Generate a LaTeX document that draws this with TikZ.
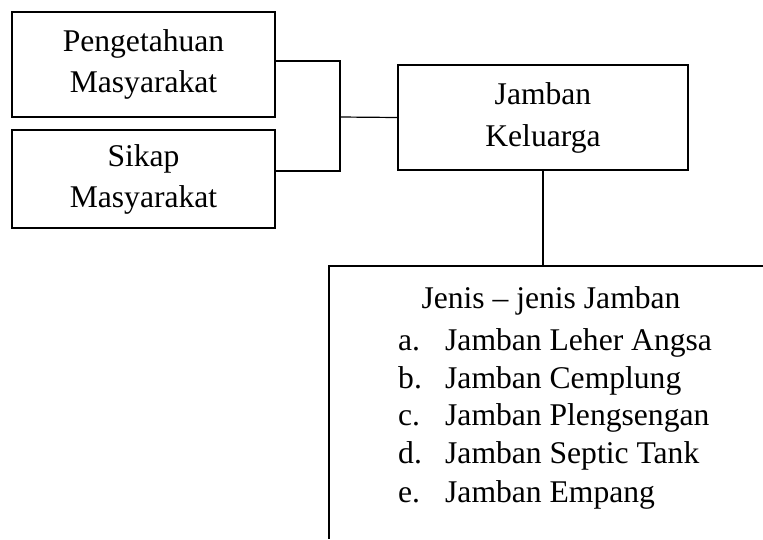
\documentclass[tikz,border=0pt]{standalone}
\usepackage{fontspec}
\setmainfont{Liberation Serif}
\begin{document}
\begin{tikzpicture}[x=1pt,y=-1pt,
  txt/.style={font=\fontsize{31.6}{37}\selectfont},
  box/.style={draw, line width=1.2pt, align=center, inner sep=0pt, txt},
  conn/.style={line width=1.2pt},
  item/.style={txt, anchor=base west, inner sep=0pt}]
\useasboundingbox (0,0) rectangle (763,539);
\node[box, minimum width=263pt, minimum height=105pt] (peng) at (143.5,64.5) {Pengetahuan\\[4pt]Masyarakat};
\node[box, minimum width=263pt, minimum height=98pt] (sikap) at (143.5,179) {Sikap\\[4pt]Masyarakat};
\node[box, minimum width=290pt, minimum height=105pt] (jk) at (543,117.5) {Jamban\\[5pt]Keluarga};
\coordinate (j) at (340,117);
\draw[conn] ([yshift=3.5pt]peng.east) -| (j) |- ([yshift=8pt]sikap.east);
\draw[conn] (j) -- (jk.west);
\coordinate (tl) at (329,266);
\coordinate (tr) at (763,266);
\coordinate (bl) at (329,539);
\draw[conn] (jk.south) -- (jk.south |- tl);
\draw[conn] (tr) -- (tl) -- (bl);
\node[txt, anchor=base, inner sep=0pt] (title) at (551,308) {Jenis – jenis Jamban};
\node[item] (la) at (398,350) {a.};
\node[item] (ia) at (445,350) {Jamban Leher Angsa};
\node[item] (lb) at (398,388) {b.};
\node[item] (ib) at (445,388) {Jamban Cemplung};
\node[item] (lc) at (398,425) {c.};
\node[item] (ic) at (445,425) {Jamban Plengsengan};
\node[item] (ld) at (398,463) {d.};
\node[item] (id) at (445,463) {Jamban Septic Tank};
\node[item] (le) at (398,502) {e.};
\node[item] (ie) at (445,502) {Jamban Empang};
\end{tikzpicture}
\end{document}
